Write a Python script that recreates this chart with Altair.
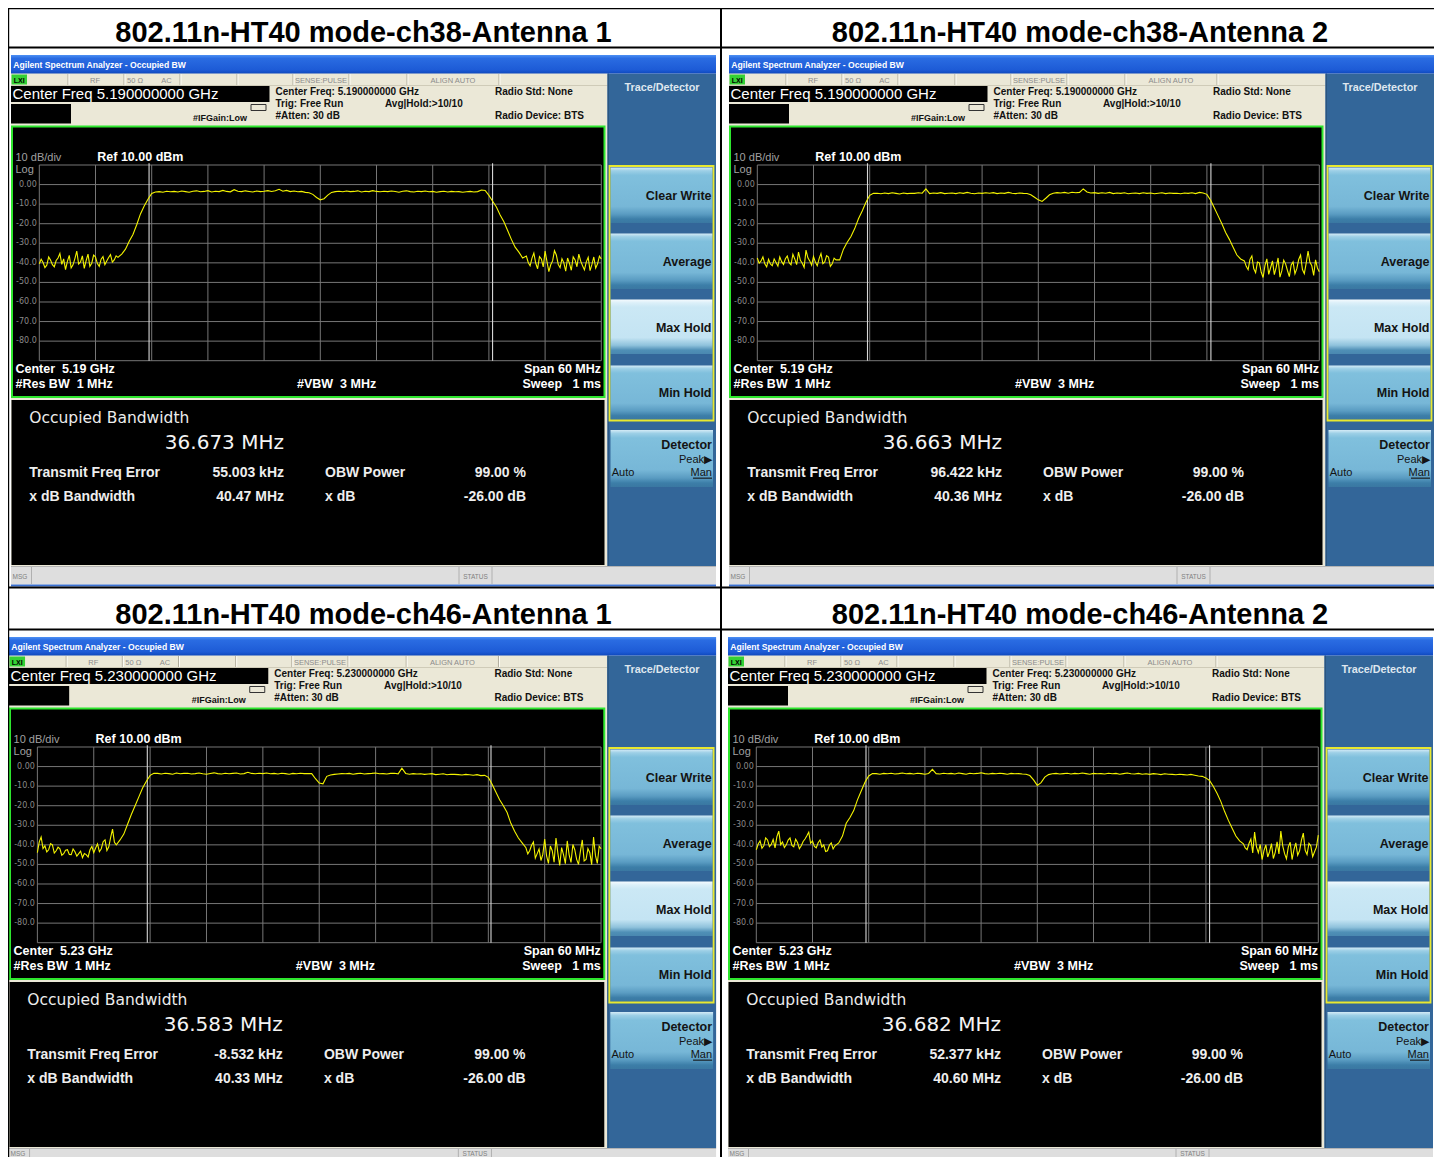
import altair as alt
import pandas as pd

# ============================ data ============================
PANEL_TITLES = [
    "802.11n-HT40 mode-ch38-Antenna 1",
    "802.11n-HT40 mode-ch38-Antenna 2",
    "802.11n-HT40 mode-ch46-Antenna 1",
    "802.11n-HT40 mode-ch46-Antenna 2",
]
CENTER_FREQ_GHZ = [5.19, 5.19, 5.23, 5.23]
OBW_MHZ = [36.673, 36.663, 36.583, 36.682]
FREQ_ERROR_KHZ = [55.003, 96.422, -8.532, 52.377]
XDB_BW_MHZ = [40.47, 40.36, 40.33, 40.60]
OBW_POWER_PCT = 99.00
XDB_DB = -26.00

# sweep points (offset from centre, MHz): finer in the noise floors
FREQ_OFFSET_MHZ = ([round(-30 + 0.2 * i, 1) for i in range(43)]
                   + [round(-21.2 + 0.4 * i, 1) for i in range(108)]
                   + [round(22.0 + 0.2 * i, 1) for i in range(41)])

TRACE_CH38_ANT1 = [
    -40.5, -38.2, -39.8, -42.4, -41.2, -37.0, -38.6, -40.9, -42.0, -38.8,
    -37.5, -35.2, -40.8, -38.0, -43.5, -39.2, -36.2, -42.6, -41.0, -37.8,
    -34.0, -40.6, -39.5, -36.4, -42.8, -38.9, -35.5, -41.8, -40.2, -36.0,
    -37.0, -40.4, -41.8, -38.1, -36.8, -40.9, -39.0, -37.3, -35.8, -39.6,
    -38.5, -36.4, -37.2,
    -35.5, -33.0, -29.0, -25.5, -20.5, -15.0, -11.0, -7.5, -4.5, -3.8,
    -3.6, -3.9, -3.4, -3.7, -3.5, -3.8, -3.3, -3.6, -3.9, -3.4,
    -3.2, -3.7, -3.5, -3.1, -3.8, -3.4, -3.6, -3.0, -3.5, -3.7,
    -2.6, -3.4, -3.6, -3.2, -3.5, -3.8, -3.3, -3.6, -3.4, -3.1,
    -3.5, -3.2, -2.4, -3.4, -3.0, -3.6, -3.3, -3.7, -3.5, -4.0,
    -4.2, -5.0, -6.6, -7.8, -7.2, -5.4, -4.0, -3.6, -3.4, -3.7,
    -3.3, -3.6, -3.5, -3.2, -3.8, -3.4, -3.6, -3.1, -3.5, -3.7,
    -3.4, -3.6, -3.3, -3.5, -3.9, -3.4, -3.2, -3.6, -3.8, -3.4,
    -3.6, -3.3, -3.7, -3.5, -3.9, -3.6, -3.4, -3.8, -3.5, -3.7,
    -3.6, -3.9, -3.7, -3.5, -3.8, -3.6, -2.8,
    -3.0, -5.5, -8.5, -11.5, -15.5, -19.0, -23.5, -28.0, -32.0, -34.5, -37.5,
    -36.5, -39.8, -41.5, -37.6, -35.0, -40.2, -43.0, -36.8, -38.0, -42.1,
    -34.0, -39.4, -44.5, -41.0, -39.0, -33.8, -36.0, -40.7, -42.5, -37.9,
    -40.0, -44.2, -37.5, -40.3, -43.8, -36.9, -38.5, -42.0, -35.5, -39.1,
    -41.5, -43.6, -39.5, -37.2, -44.0, -40.8, -37.0, -42.7, -40.5, -36.6,
    -38.0,
]
TRACE_CH38_ANT2 = [
    -37.5, -40.2, -39.0, -36.9, -40.5, -42.0, -38.2, -40.6, -41.5, -38.0,
    -39.8, -41.7, -37.0, -39.4, -40.8, -37.9, -36.5, -39.9, -41.0, -35.6,
    -38.0, -40.9, -34.5, -38.7, -40.2, -42.3, -33.5, -37.4, -39.0, -41.2,
    -36.8, -39.6, -41.5, -37.8, -35.2, -40.4, -39.5, -36.3, -37.0, -41.8,
    -40.5, -37.6, -38.5,
    -38.5, -33.0, -29.5, -26.5, -22.5, -17.5, -13.5, -9.0, -5.5, -4.5,
    -4.4, -4.7, -4.3, -4.6, -4.2, -4.5, -4.8, -4.3, -4.6, -4.4,
    -4.5, -4.2, -4.4, -2.2, -4.6, -4.3, -4.5, -4.1, -4.6, -4.4,
    -4.3, -4.6, -4.2, -4.5, -4.0, -4.4, -4.7, -4.3, -4.5, -4.2,
    -4.4, -4.1, -4.6, -4.3, -4.5, -4.0, -4.4, -4.6, -4.3, -4.5,
    -4.6, -5.2, -6.5, -7.8, -8.6, -7.0, -5.2, -4.4, -4.1, -4.3,
    -4.0, -4.4, -3.9, -4.2, -4.0, -2.2, -3.8, -4.3, -4.1, -4.5,
    -4.2, -4.4, -4.0, -4.6, -4.3, -4.5, -4.2, -4.7, -4.4, -4.3,
    -4.6, -4.2, -4.5, -4.3, -4.7, -4.4, -4.2, -4.6, -4.3, -4.5,
    -4.4, -4.7, -4.3, -4.5, -4.2, -4.6, -4.0,
    -4.3, -5.0, -8.0, -12.0, -16.0, -20.0, -24.5, -28.0, -32.0, -36.0, -38.0,
    -39.0, -41.8, -43.5, -38.2, -36.5, -42.9, -45.0, -39.6, -40.0, -44.8,
    -47.5, -41.3, -38.0, -45.9, -42.5, -39.0, -46.0, -42.2, -37.5, -47.3,
    -44.0, -38.6, -40.5, -43.9, -47.0, -41.1, -39.5, -45.6, -43.0, -38.3,
    -36.0, -43.4, -45.5, -40.1, -34.0, -39.7, -41.5, -46.4, -38.5, -42.6,
    -44.5,
]
TRACE_CH46_ANT1 = [
    -44.0, -38.5, -36.0, -41.9, -40.5, -43.6, -42.5, -39.4, -40.0, -44.2,
    -43.0, -41.2, -42.0, -45.3, -44.5, -42.8, -42.5, -44.9, -45.0, -42.1,
    -43.5, -45.8, -44.5, -43.2, -46.5, -44.4, -45.0, -46.2, -42.5, -40.8,
    -44.0, -41.6, -39.5, -43.5, -42.0, -38.4, -37.5, -42.9, -41.0, -36.2,
    -32.0, -38.7, -40.0,
    -37.5, -34.5, -29.5, -24.5, -20.0, -15.5, -11.0, -7.5, -4.5, -3.4,
    -3.5, -3.8, -3.4, -3.6, -3.9, -3.3, -3.7, -3.5, -3.4, -3.8,
    -3.6, -3.3, -3.7, -3.9, -3.5, -3.2, -3.6, -3.8, -3.4, -3.7,
    -3.5, -3.3, -3.8, -3.6, -2.9, -3.5, -3.7, -3.4, -3.6, -3.3,
    -3.7, -3.5, -3.8, -3.4, -3.6, -3.9, -3.5, -3.7, -3.4, -3.6,
    -3.6, -3.6, -6.2, -8.4, -8.8, -5.0, -4.3, -4.0, -3.8, -3.6,
    -3.7, -3.5, -3.9, -3.6, -3.4, -3.8, -3.6, -3.5, -3.3, -3.7,
    -3.6, -3.8, -3.5, -3.4, -3.7, -0.8, -3.5, -3.9, -3.6, -3.8,
    -3.7, -4.0, -3.8, -3.6, -4.1, -3.9, -3.7, -4.2, -3.9, -4.0,
    -4.1, -4.3, -4.0, -4.2, -4.4, -4.1, -4.6,
    -4.5, -5.5, -9.0, -13.0, -17.0, -20.0, -23.5, -29.0, -33.0, -36.5, -39.0,
    -41.5, -44.6, -43.0, -40.2, -38.5, -46.8, -44.5, -42.1, -48.0, -44.9,
    -37.0, -45.7, -49.5, -40.6, -43.0, -48.9, -36.5, -44.2, -50.5, -41.4,
    -45.0, -49.6, -38.0, -45.1, -49.0, -39.8, -42.5, -47.4, -50.0, -43.3,
    -37.5, -48.2, -47.5, -41.9, -44.0, -50.1, -36.0, -45.4, -49.5, -40.7,
    -42.0,
]
TRACE_CH46_ANT2 = [
    -42.5, -39.6, -38.0, -41.7, -40.5, -36.4, -37.5, -40.9, -39.8, -37.2,
    -41.5, -35.8, -33.0, -39.9, -38.5, -41.4, -40.0, -37.6, -36.5, -40.3,
    -41.0, -37.1, -38.8, -42.0, -40.5, -38.3, -37.0, -35.4, -33.5, -39.2,
    -38.0, -40.8, -41.5, -38.9, -37.5, -41.1, -40.0, -43.4, -43.0, -40.2,
    -39.0, -42.1, -40.5,
    -39.0, -35.5, -29.0, -26.0, -22.5, -17.0, -12.5, -8.0, -4.8, -3.6,
    -3.6, -3.9, -3.5, -3.7, -3.4, -3.8, -3.6, -3.3, -3.7, -3.5,
    -3.8, -3.4, -3.6, -3.9, -3.5, -1.4, -3.6, -3.8, -3.4, -3.7,
    -3.5, -3.8, -3.3, -3.6, -3.9, -3.4, -3.7, -3.5, -3.2, -3.6,
    -3.8, -3.5, -3.7, -3.4, -3.6, -3.9, -3.5, -3.7, -3.6, -3.8,
    -3.9, -4.6, -6.8, -9.6, -8.2, -5.4, -4.1, -3.7, -3.5, -3.8,
    -3.6, -3.4, -3.8, -3.5, -3.7, -3.3, -3.6, -3.9, -3.5, -3.7,
    -3.6, -3.8, -3.4, -3.7, -3.5, -3.9, -3.6, -3.3, -3.7, -3.8,
    -3.5, -3.9, -3.7, -4.0, -3.6, -3.8, -4.1, -3.7, -3.9, -4.0,
    -4.2, -3.9, -4.1, -4.3, -4.0, -4.4, -4.8,
    -5.0, -5.8, -7.2, -10.2, -13.8, -17.9, -23.0, -27.5, -31.5, -35.5, -38.0,
    -39.5, -41.6, -42.5, -39.3, -37.0, -44.1, -33.5, -41.0, -44.0, -39.8,
    -47.5, -42.9, -40.0, -46.2, -43.5, -39.4, -47.0, -43.8, -38.5, -44.6,
    -33.0, -40.5, -44.5, -47.1, -41.0, -38.7, -47.5, -42.4, -39.0, -45.3,
    -43.0, -37.6, -34.0, -42.8, -45.0, -39.2, -40.5, -46.0, -43.5, -41.2,
    -35.0,
]
TRACES = [TRACE_CH38_ANT1, TRACE_CH38_ANT2, TRACE_CH46_ANT1, TRACE_CH46_ANT2]
for _t in TRACES:
    assert len(_t) == len(FREQ_OFFSET_MHZ), len(_t)

FREQ_GRID_MHZ = [-30, -24, -18, -12, -6, 0, 6, 12, 18, 24, 30]
DBM_GRID = [10, 0, -10, -20, -30, -40, -50, -60, -70, -80, -90]
DBM_TICK_VALUES = [0, -10, -20, -30, -40, -50, -60, -70, -80]
DBM_TICK_LABELS = ["0.00", "-10.0", "-20.0", "-30.0", "-40.0", "-50.0", "-60.0", "-70.0", "-80.0"]

# ============================ layout ============================
REF_W, REF_H = 1442, 1165
W, H = 1442, 1165          # 1:1 with the page; negative padding cancels the page margin
PAD = -8
A = "Liberation Sans"
D = "DejaVu Sans"

# panel placement: X = ox + k*(x-11), Y = y + oy  (x, y in panel-1 pixels)
PANEL_PLACE = [(11, 0, 1.0), (729, 0, 1.0), (9, 582, 1.003), (728, 582, 1.0)]

back, front, tbar, btn, btn_hi, outl, texts = [], [], [], [], [], [], []


def build_panel(p):
    ox, oy, k = PANEL_PLACE[p]

    def X(x):
        return ox + k * (x - 11)

    def Y(y):
        return y + oy

    def R(lst, x1, y1, x2, y2, c, sw=1.0):
        lst.append(dict(x1=X(x1), y1=Y(y1), x2=X(x2), y2=Y(y2), c=c, sw=sw))

    def T(t, x, y, s, c, font=A, weight="normal", align="left"):
        texts.append(dict(t=t, x=X(x), y=Y(y), s=s, c=c,
                          font=font, weight=weight, align=align))

    beige = "#ebe8d7"
    R(back, 11, 73, 607.5, 566, beige)
    R(tbar, 11, 55, 716, 73.5, "")
    for xd in [68, 124, 180, 237, 293, 349, 407, 499]:
        R(back, xd - 0.5, 74, xd + 0.5, 85, "#b0ac9c")
        R(back, xd + 0.5, 74, xd + 1.5, 85, "#fdfcf6")
    R(back, 11, 85, 607.5, 86, "#cfcbb8")
    R(back, 11.5, 74.5, 27, 84.5, "#35d035")
    R(back, 11, 86, 269.5, 102, "#000000")
    R(back, 11, 104, 71, 123.5, "#000000")
    R(back, 11, 125.5, 605.5, 398, "#2ee62e")
    R(back, 13, 127.5, 603.5, 396, "#000000")
    R(back, 11.5, 400, 604.5, 565, "#000000")
    R(back, 607.5, 73.5, 716, 566, "#336699")
    R(back, 607.5, 73.5, 609, 566, "#2a5580")
    R(back, 11, 566, 716, 584.5, "#dedede")
    R(back, 11, 566, 716, 567, "#b4b4b4")
    R(back, 31, 567, 32, 584, "#b0b0b0")
    R(back, 458.5, 567, 459.5, 584, "#b0b0b0")
    R(back, 491.5, 567, 492.5, 584, "#b0b0b0")
    R(back, 11, 584.5, 716, 586.5, "#3a70d0")
    R(btn, 610.5, 167.5, 712.5, 223, "")
    R(btn, 610.5, 233.5, 712.5, 289, "")
    R(btn_hi, 610.5, 299.5, 712.5, 354, "")
    R(btn, 610.5, 365.5, 712.5, 419.5, "")
    R(btn, 610.5, 430, 713, 487, "")
    R(outl, 609.5, 166, 713.5, 420.5, "#e8e830", 1.8)
    R(outl, 251, 104.5, 266, 110.5, "#333333", 1.0)
    R(front, 693, 477.6, 712, 478.7, "#141414")

    T("Agilent Spectrum Analyzer - Occupied BW", 13.3, 68, 8.6, "#ffffff", A, "bold")
    T("LXI", 19.2, 82.8, 7, "#000000", A, "bold", "center")
    for t, xc in [("RF", 95), ("50 \u03a9", 135), ("AC", 166.5), ("SENSE:PULSE", 321), ("ALIGN AUTO", 453)]:
        T(t, xc, 83, 7.5, "#8c8c8c", A, "normal", "center")
    T(f"Center Freq {CENTER_FREQ_GHZ[p]:.9f} GHz", 12.5, 99, 15, "#ffffff")
    T(f"Center Freq: {CENTER_FREQ_GHZ[p]:.9f} GHz", 275.5, 95, 10, "#111111", A, "bold")
    T("Trig: Free Run", 275.5, 107.3, 10, "#111111", A, "bold")
    T("#Atten: 30 dB", 275.5, 119.3, 10, "#111111", A, "bold")
    T("Avg|Hold:>10/10", 385, 106.5, 10, "#111111", A, "bold")
    T("Radio Std: None", 495, 95, 10, "#111111", A, "bold")
    T("Radio Device: BTS", 495, 119.3, 10, "#111111", A, "bold")
    T("#IFGain:Low", 247, 120.7, 9, "#111111", A, "bold", "right")

    T("10 dB/div", 15.5, 160.7, 11, "#a0a0a0")
    T("Ref 10.00 dBm", 97.3, 160.7, 12.5, "#ffffff", A, "bold")
    T("Log", 15.5, 173.3, 11, "#a0a0a0")
    T(f"Center\u00a0\u00a0{CENTER_FREQ_GHZ[p]:.2f} GHz", 15.5, 373.3, 12.5, "#ffffff", A, "bold")
    T("#Res BW\u00a0\u00a01 MHz", 15.5, 388.3, 12.5, "#ffffff", A, "bold")
    T("#VBW\u00a0\u00a03 MHz", 297, 388.3, 12.5, "#ffffff", A, "bold")
    T("Span 60 MHz", 601, 373.3, 12.5, "#ffffff", A, "bold", "right")
    T("Sweep\u00a0\u00a0\u00a01 ms", 601, 388.3, 12.5, "#ffffff", A, "bold", "right")

    T("Occupied Bandwidth", 29.3, 423.3, 15.5, "#ececec", D)
    T(f"{OBW_MHZ[p]:.3f} MHz", 284, 449, 20, "#f4f4f4", D, "normal", "right")
    T("Transmit Freq Error", 29.3, 476.7, 14, "#eeeeee", A, "bold")
    T(f"{FREQ_ERROR_KHZ[p]:.3f} kHz", 284, 476.7, 14, "#eeeeee", A, "bold", "right")
    T("OBW Power", 325, 476.7, 14, "#eeeeee", A, "bold")
    T(f"{OBW_POWER_PCT:.2f} %", 526, 476.7, 14, "#eeeeee", A, "bold", "right")
    T("x dB Bandwidth", 29.3, 500.5, 14, "#eeeeee", A, "bold")
    T(f"{XDB_BW_MHZ[p]:.2f} MHz", 284, 500.5, 14, "#eeeeee", A, "bold", "right")
    T("x dB", 325, 500.5, 14, "#eeeeee", A, "bold")
    T(f"{XDB_DB:.2f} dB", 526, 500.5, 14, "#eeeeee", A, "bold", "right")

    T("Trace/Detector", 662, 90.7, 10.8, "#dfe7ef", A, "bold", "center")
    for t, yb in [("Clear Write", 200), ("Average", 266), ("Max Hold", 331.7), ("Min Hold", 396.7)]:
        T(t, 711.5, yb, 12.5, "#141414", A, "bold", "right")
    T("Detector", 712, 449.3, 12.5, "#141414", A, "bold", "right")
    T("Peak\u25b6", 712, 462.7, 11, "#141414", A, "normal", "right")
    T("Auto", 611.7, 475.7, 11, "#141414")
    T("Man", 712, 475.7, 11, "#141414", A, "normal", "right")
    # status-bar labels (lower panels are cut by the picture edge: keep them in view)
    msg_y = 578.5 if oy == 0 else 574.0
    T("MSG", 12.5, msg_y, 6.5, "#808080")
    T("STATUS", 475.5, msg_y, 6.5, "#808080", A, "normal", "center")

    return ([X(39.3), X(601.3)], [Y(360.7), Y(165.0)])


panel_ranges = [build_panel(p) for p in range(4)]

# table grid lines (outer left/top edges nudged into the visible area)
borders = [
    (4.5, 4.5, 1440.5, 9.2), (4.5, 4.5, 9.2, 1165), (1438.5, 4.5, 1440.5, 1165),
    (720, 4.5, 722, 1165), (4.5, 46.5, 1440.5, 48.5), (4.5, 586.5, 1440.5, 588.5),
    (4.5, 628.5, 1440.5, 630.5),
]
for x1, y1, x2, y2 in borders:
    front.append(dict(x1=x1, y1=y1, x2=x2, y2=y2, c="#000000", sw=1.0))
for p, title in enumerate(PANEL_TITLES):
    texts.append(dict(t=title, x=[363.5, 1080][p % 2], y=41.5 + 582 * (p // 2),
                      s=29, c="#000000", font=A, weight="bold", align="center"))

# ============================ chart ============================
PXX = alt.Scale(domain=[0, REF_W], range=[0, W], nice=False, zero=False)
PXY = alt.Scale(domain=[0, REF_H], range=[0, H], nice=False, zero=False)


def rect_enc(chart, colored=True):
    enc = dict(
        x=alt.X("x1:Q", scale=PXX, axis=None), x2="x2:Q",
        y=alt.Y("y1:Q", scale=PXY, axis=None), y2="y2:Q",
    )
    if colored:
        enc["color"] = alt.Color("c:N", scale=None)
    return chart.encode(**enc)


def grad(stops):
    return alt.LinearGradient(
        gradient="linear", x1=0, y1=0, x2=0, y2=1,
        stops=[alt.GradientStop(offset=o, color=c) for o, c in stops])


TB_GRAD = grad([(0, "#4d90f4"), (0.18, "#2a6ce2"), (0.8, "#1d5bd6"), (1, "#0f49bd")])
BTN_GRAD = grad([(0, "#d4ebf6"), (0.06, "#9ccfe6"), (0.14, "#80c0dd"), (0.7, "#77b7d7"),
                 (0.84, "#5a9cc2"), (0.93, "#3c7ea8"), (1, "#3a78a2")])
BTN_HI_GRAD = grad([(0, "#f6fbfe"), (0.06, "#dcf0f9"), (0.14, "#cbe8f5"), (0.7, "#c4e4f3"),
                    (0.84, "#8fc2dc"), (0.93, "#4f8fb6"), (1, "#4a88b0")])

layers = [
    rect_enc(alt.Chart(pd.DataFrame(back)).mark_rect()),
    rect_enc(alt.Chart(pd.DataFrame(tbar)).mark_rect(fill=TB_GRAD), False),
    rect_enc(alt.Chart(pd.DataFrame(btn)).mark_rect(fill=BTN_GRAD), False),
    rect_enc(alt.Chart(pd.DataFrame(btn_hi)).mark_rect(fill=BTN_HI_GRAD), False),
    rect_enc(alt.Chart(pd.DataFrame(front)).mark_rect()),
    alt.Chart(pd.DataFrame(outl)).mark_rect(filled=False).encode(
        x=alt.X("x1:Q", scale=PXX, axis=None), x2="x2:Q",
        y=alt.Y("y1:Q", scale=PXY, axis=None), y2="y2:Q",
        stroke=alt.Stroke("c:N", scale=None),
        strokeWidth=alt.StrokeWidth("sw:Q", scale=None)),
]

for p in range(4):
    xr, yr = panel_ranges[p]
    fs = alt.Scale(domain=[-30, 30], range=xr, nice=False, zero=False)
    ds = alt.Scale(domain=[-90, 10], range=yr, nice=False, zero=False)
    grid = [dict(a=f, a2=f, b=-90, b2=10) for f in FREQ_GRID_MHZ] + \
           [dict(a=-30, a2=30, b=d, b2=d) for d in DBM_GRID]
    fe = FREQ_ERROR_KHZ[p] / 1000.0
    marks = [dict(a=fe + s * OBW_MHZ[p] / 2, a2=fe + s * OBW_MHZ[p] / 2, b=-90, b2=10.9)
             for s in (-1, 1)]
    ticks = pd.DataFrame(dict(a=[-30] * len(DBM_TICK_VALUES), b=DBM_TICK_VALUES, t=DBM_TICK_LABELS))
    trace = pd.DataFrame(dict(f=FREQ_OFFSET_MHZ, dbm=TRACES[p]))

    def rule_layer(df, color, sw):
        return alt.Chart(pd.DataFrame(df)).mark_rule(color=color, strokeWidth=sw).encode(
            x=alt.X("a:Q", scale=fs, axis=None), x2="a2:Q",
            y=alt.Y("b:Q", scale=ds, axis=None), y2="b2:Q")

    layers.append(rule_layer(grid, "#767676", 1.0))
    layers.append(rule_layer(marks, "#d8d8d8", 1.1))
    layers.append(alt.Chart(trace).mark_line(color="#f4f400", strokeWidth=1.1).encode(
        x=alt.X("f:Q", scale=fs, axis=None), y=alt.Y("dbm:Q", scale=ds, axis=None)))
    layers.append(alt.Chart(ticks).mark_text(
        font=D, fontSize=8, color="#8a8a8a", align="right", baseline="middle", dx=-2.5
    ).encode(x=alt.X("a:Q", scale=fs, axis=None), y=alt.Y("b:Q", scale=ds, axis=None), text="t:N"))

tdf = pd.DataFrame(texts)
for (font, weight, align), g in tdf.groupby(["font", "weight", "align"]):
    layers.append(alt.Chart(g.reset_index(drop=True)).mark_text(
        font=font, fontWeight=weight, align=align, baseline="alphabetic"
    ).encode(
        x=alt.X("x:Q", scale=PXX, axis=None), y=alt.Y("y:Q", scale=PXY, axis=None),
        text="t:N", size=alt.Size("s:Q", scale=None), color=alt.Color("c:N", scale=None)))

chart = alt.layer(*layers).resolve_scale(x="independent", y="independent").properties(
    width=W, height=H, background="white",
    padding={"left": PAD, "top": PAD, "right": PAD, "bottom": PAD},
    autosize=alt.AutoSizeParams(type="none"),
).configure_view(stroke=None)

chart.save("out.html", embed_options={"renderer": "svg", "actions": False})
